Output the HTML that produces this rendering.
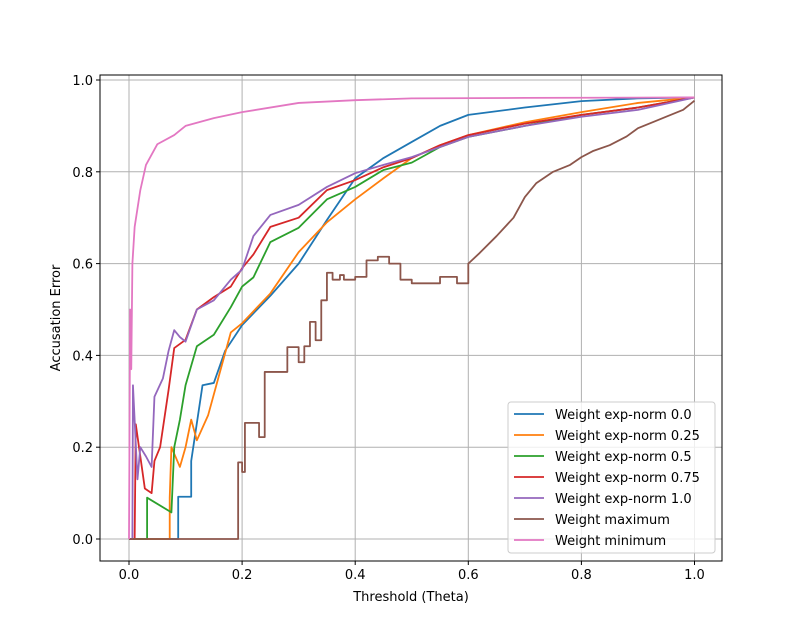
<!DOCTYPE html>
<html><head><meta charset="utf-8"><style>
body{margin:0;background:#fff;}
svg{display:block;font-family:"DejaVu Sans","Liberation Sans",sans-serif;}
</style></head><body>
<svg id="chart" width="802" height="630" xmlns="http://www.w3.org/2000/svg"></svg>
<script>
const xTicks=[0,0.2,0.4,0.6,0.8,1.0];
const xTickLabels=["0.0","0.2","0.4","0.6","0.8","1.0"];
const yTicks=[0,0.2,0.4,0.6,0.8,1.0];
const yTickLabels=["0.0","0.2","0.4","0.6","0.8","1.0"];
const seriesNames=["Weight exp-norm 0.0","Weight exp-norm 0.25","Weight exp-norm 0.5","Weight exp-norm 0.75","Weight exp-norm 1.0","Weight maximum","Weight minimum"];
const seriesColors=["#1f77b4","#ff7f0e","#2ca02c","#d62728","#9467bd","#8c564b","#e377c2"];
const blueX=[0,0.087,0.087,0.11,0.11,0.13,0.15,0.17,0.2,0.25,0.3,0.35,0.4,0.45,0.5,0.55,0.6,0.7,0.8,0.9,1.0];
const blueY=[0,0,0.092,0.092,0.17,0.335,0.34,0.41,0.466,0.53,0.6,0.695,0.786,0.83,0.865,0.9,0.924,0.94,0.954,0.96,0.962];
const orangeX=[0,0.072,0.072,0.075,0.09,0.1,0.11,0.12,0.14,0.16,0.18,0.2,0.25,0.3,0.35,0.4,0.45,0.5,0.55,0.6,0.7,0.8,0.9,1.0];
const orangeY=[0,0,0.09,0.2,0.157,0.2,0.26,0.215,0.27,0.36,0.45,0.47,0.535,0.625,0.69,0.74,0.786,0.83,0.858,0.88,0.908,0.93,0.95,0.962];
const greenX=[0,0.032,0.032,0.075,0.08,0.09,0.1,0.12,0.15,0.18,0.2,0.22,0.25,0.3,0.35,0.4,0.45,0.5,0.55,0.6,0.7,0.8,0.9,1.0];
const greenY=[0,0,0.09,0.058,0.2,0.26,0.335,0.42,0.445,0.505,0.55,0.57,0.647,0.678,0.74,0.767,0.804,0.82,0.854,0.876,0.9,0.924,0.94,0.962];
const redX=[0,0.01,0.012,0.028,0.04,0.045,0.055,0.07,0.08,0.1,0.12,0.15,0.18,0.2,0.22,0.25,0.3,0.35,0.4,0.45,0.5,0.55,0.6,0.7,0.8,0.9,1.0];
const redY=[0,0,0.25,0.11,0.1,0.17,0.2,0.325,0.416,0.434,0.5,0.527,0.55,0.59,0.62,0.68,0.7,0.76,0.782,0.81,0.83,0.858,0.88,0.905,0.924,0.94,0.962];
const purpleX=[0,0.006,0.007,0.015,0.02,0.03,0.04,0.045,0.06,0.07,0.08,0.09,0.1,0.12,0.15,0.18,0.2,0.22,0.25,0.3,0.35,0.4,0.45,0.5,0.55,0.6,0.7,0.8,0.9,1.0];
const purpleY=[0,0,0.335,0.13,0.2,0.18,0.157,0.31,0.35,0.41,0.455,0.44,0.43,0.5,0.52,0.565,0.587,0.66,0.706,0.728,0.767,0.797,0.815,0.832,0.854,0.876,0.9,0.92,0.935,0.962];
const brownX=[0,0.193,0.2,0.205,0.23,0.24,0.28,0.3,0.31,0.32,0.33,0.34,0.35,0.36,0.373,0.38,0.4,0.42,0.44,0.46,0.48,0.5,0.55,0.58,0.6,0.62,0.65,0.68,0.7,0.72,0.75,0.78,0.8,0.82,0.85,0.88,0.9,0.93,0.95,0.98,1.0];
const brownY=[0,0.167,0.146,0.253,0.222,0.364,0.418,0.385,0.42,0.473,0.433,0.52,0.58,0.565,0.575,0.565,0.571,0.607,0.615,0.6,0.565,0.557,0.571,0.557,0.6,0.623,0.66,0.7,0.745,0.775,0.8,0.815,0.832,0.845,0.858,0.877,0.895,0.91,0.92,0.935,0.955];
const pinkX=[0,0.002,0.004,0.006,0.01,0.02,0.03,0.05,0.08,0.1,0.15,0.2,0.3,0.4,0.5,0.7,1.0];
const pinkY=[0,0.5,0.37,0.6,0.68,0.76,0.815,0.86,0.88,0.9,0.917,0.93,0.95,0.956,0.96,0.961,0.962];
const seriesX=[blueX,orangeX,greenX,redX,purpleX,brownX,pinkX];
const seriesY=[blueY,orangeY,greenY,redY,purpleY,brownY,pinkY];

const L=100,R=722,T=75,B=561;
const sx=v=>129+565.5*v;
const sy=v=>539-459*v;
const NS="http://www.w3.org/2000/svg";
const svg=document.getElementById('chart');
function mk(tag,attrs,parent){const e=document.createElementNS(NS,tag);for(const k in attrs)e.setAttribute(k,attrs[k]);(parent||svg).appendChild(e);return e;}

xTicks.forEach((t,i)=>{
  const g=mk('line',{x1:sx(t),x2:sx(t),y1:T,y2:B,stroke:'#b0b0b0','stroke-width':1});
  
  
  const tk=mk('line',{x1:sx(t),x2:sx(t),y1:B,y2:B+4,stroke:'#000','stroke-width':1});
  
  
  const tx=mk('text',{x:sx(t),y:B+18,'text-anchor':'middle','font-size':13,fill:'#000'});
  tx.textContent=xTickLabels[i];
  
  
});
yTicks.forEach((t,i)=>{
  const g=mk('line',{x1:L,x2:R,y1:sy(t),y2:sy(t),stroke:'#b0b0b0','stroke-width':1});
  
  
  const tk=mk('line',{x1:L-4,x2:L,y1:sy(t),y2:sy(t),stroke:'#000','stroke-width':1});
  
  
  const tx=mk('text',{x:L-7,y:sy(t)+5,'text-anchor':'end','font-size':13,fill:'#000'});
  tx.textContent=yTickLabels[i];
  
  
});

seriesX.forEach((xs,si)=>{
  const ys=seriesY[si];
  let d='';
  xs.forEach((x,i)=>{
    if(i===0)d+='M'+sx(x)+' '+sy(ys[i]);
    else if(si===5 && x<=0.6)d+=' L'+sx(x)+' '+sy(ys[i-1])+' L'+sx(x)+' '+sy(ys[i]);
    else d+=' L'+sx(x)+' '+sy(ys[i]);
  });
  const p=mk('path',{d:d,fill:'none',stroke:seriesColors[si],'stroke-width':1.8,'stroke-linejoin':'round'});
  
  
});

const fr=mk('rect',{x:L,y:T,width:R-L,height:B-T,fill:'none',stroke:'#000','stroke-width':1});



const xt=mk('text',{x:411,y:601,'text-anchor':'middle','font-size':13});
xt.textContent='Threshold (Theta)';


const yt=mk('text',{x:0,y:0,'text-anchor':'middle','font-size':13,transform:'translate(60,318) rotate(-90)'});
yt.textContent='Accusation Error';



const lg=mk('g',{});


const lb=mk('rect',{x:508,y:402,width:207,height:151,rx:3,fill:'#fff','fill-opacity':0.8,stroke:'#ccc'},lg);


seriesNames.forEach((n,i)=>{
  const y=414+i*21;
  const ln=mk('line',{x1:514,x2:544,y1:y,y2:y,stroke:seriesColors[i],'stroke-width':1.8},lg);
  
  
  const tx=mk('text',{x:555,y:y+5,'font-size':13},lg);
  tx.textContent=n;
  
  
});
</script>
</body></html>
